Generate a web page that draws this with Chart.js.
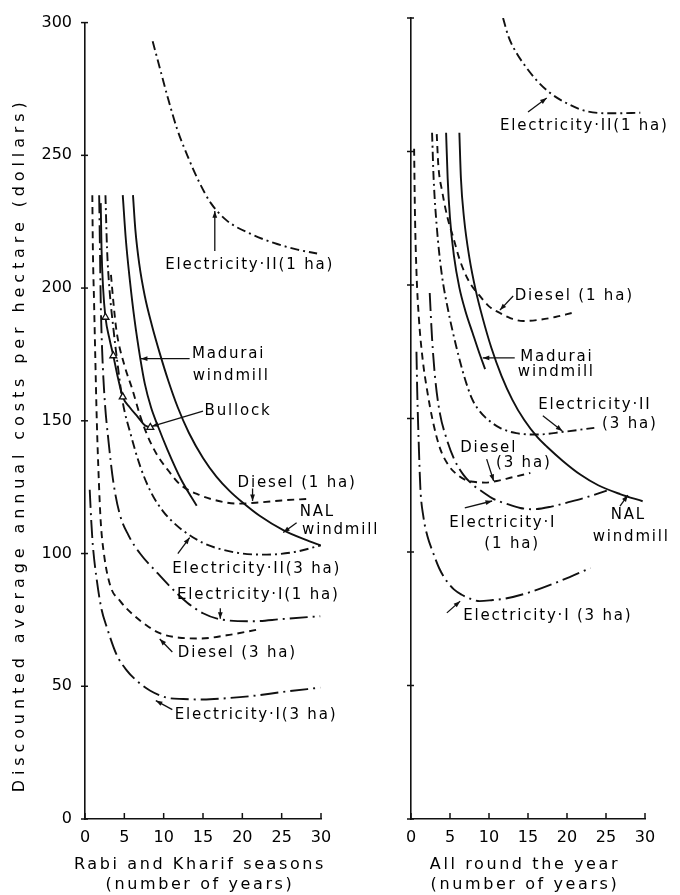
<!DOCTYPE html>
<html>
<head>
<meta charset="utf-8">
<script src="https://cdn.jsdelivr.net/npm/chart.js@4.4.1/dist/chart.umd.min.js"></script>
<style>
  html, body { margin: 0; padding: 0; background: #fff; }
  #wrap { position: relative; width: 680px; height: 895px; }
  canvas { position: absolute; top: 0; }
  #left { left: 0; }
  #right { left: 380px; }
</style>
</head>
<body>
<div id="wrap">
  <canvas id="left" width="400" height="895"></canvas>
  <canvas id="right" width="300" height="895"></canvas>
</div>
<script>
// axis ticks
const yTicks = [0, 50, 100, 150, 200, 250, 300];
const xTicks = [0, 5, 10, 15, 20, 25, 30];

// ---- left panel: Rabi and Kharif seasons  [years, dollars per ha]
const leftElec2One = [[8.6,293],[9.5,283],[10.5,272],[11.7,260],[13,250],[14.5,240],[16,232],[18,225.5],[21,220.5],[24,217],[27,214.5],[29.5,213]];
const leftMadurai = [[4.8,235],[5.2,218],[5.7,203],[6.3,188],[7.0,174],[7.6,164],[8.4,155],[9.2,148.5],[10.5,139],[12.2,128],[14.2,118]];
const leftNal = [[6.1,235],[6.4,222],[6.9,209],[7.6,197],[8.5,186],[9.5,175.5],[10.6,165],[11.8,155],[13.2,145.5],[15,136],[16.7,129],[18.4,123.5],[20,119.3],[22.2,114.2],[25.2,108.8],[28,105.2],[30,103]];
const leftBullock = [[2.0,232],[2.1,215],[2.3,200],[2.6,189],[3.1,181],[3.6,174.5],[4.2,166],[4.8,159],[5.7,155],[6.7,151.5],[7.6,148.3],[8.3,147.5]];
const bullockMarks = [3, 5, 7, 11];
const leftDiesel1 = [[3.3,205],[3.6,195],[4.0,184],[5.0,171],[6.0,162],[7.0,152],[8.0,144],[9.2,137],[10.4,132],[12.1,126],[14.6,122],[17,119.8],[19.3,118.8],[22,119.2],[25,120],[28.6,120.6]];
const leftElec2Three = [[2.6,235],[2.8,215],[3.1,200],[3.6,185],[4.2,170],[4.8,157],[5.8,145],[7.0,133],[8.4,123],[9.9,116],[11.5,111],[13,107.5],[15,104],[16.8,102],[20,100],[23.1,99.6],[26.5,100.5],[29.9,103]];
const leftElec1One = [[1.8,235],[1.9,215],[2.0,195],[2.2,175],[2.5,158],[3.0,142],[3.6,127],[4.4,115],[5.5,107],[7.0,100],[9.1,93],[11,87],[13,81.5],[15,77.5],[17.2,75.2],[21.3,74.5],[25,75.3],[29.9,76.4]];
const leftDiesel3 = [[0.93,235],[1.0,215],[1.15,195],[1.3,175],[1.5,150],[1.75,128],[2.0,112],[2.4,100],[3.2,88],[4.5,82],[6.1,77],[7.8,73],[9.5,70],[12,68.3],[14.6,68],[18,69.2],[22.2,71.5]];
const leftElec1Three = [[0.6,124],[0.8,112],[1.0,103],[1.5,90],[2.1,79],[2.8,72],[4,62],[5.3,56],[6.8,51.5],[8.3,48.3],[10.4,45.7],[12.5,45.2],[15,45],[18,45.5],[21.4,46.4],[25,47.8],[29.9,49.5]];

// ---- right panel: all round the year
const rightElec2One = [[11.8,300],[12.5,293],[13.5,287],[14.4,283],[16,277],[17.8,272],[20,268],[22.6,265],[26,264.3],[29.4,264.5]];
const rightElec2Three = [[2.7,257],[2.9,240],[3.3,222],[3.9,205],[4.8,190],[5.8,177],[6.8,166],[7.8,157.5],[8.6,153.5],[9.5,150.5],[11.4,146.5],[13.5,144.5],[16.2,144],[19.5,145],[23.5,146.5]];
const rightMadurai = [[4.5,257],[4.7,240],[5.0,225],[5.5,211],[6.2,199],[7.0,190],[7.9,182],[8.7,175],[9.5,168.5]];
const rightNal = [[6.2,257],[6.4,240],[6.8,225],[7.5,210],[8.3,198],[9.2,187.5],[10.3,176.5],[11.6,166],[13,157],[14.5,149.5],[16.2,143],[17.4,139.5],[19.5,134],[21.7,129],[24,125],[26.8,121.7],[29.7,119]];
const rightDiesel1 = [[3.3,256.5],[3.5,245],[4.0,235],[4.7,225],[5.4,218],[6.3,209],[7.5,201],[8.8,196],[10,192],[11.4,189.5],[12.8,187.5],[14.4,186.5],[16.5,187],[18.5,188],[20.6,189.5]];
const rightDiesel3 = [[0.4,251],[0.5,228],[0.7,205],[1.0,188],[1.5,172],[2.1,160],[2.8,149],[3.7,139],[4.8,132.5],[5.9,129],[7,127],[8,126.3],[9.5,126],[11,126.6],[13,128],[15.3,129.6]];
const rightElec1One = [[2.4,197],[2.7,180],[3.1,165],[3.7,152],[4.5,143],[5.5,135],[6.7,129],[8,125],[9.2,122.5],[10.5,120],[12.3,118],[14,116.5],[15.6,116],[18,117],[20,118.5],[22.5,120.5],[25.1,123]];
const rightElec1Three = [[0.7,175],[0.8,160],[1.0,140],[1.2,124],[1.6,113],[2.1,106],[2.8,100],[3.6,94],[4.6,89],[5.5,86],[6.5,84],[7.6,82.5],[8.8,81.6],[10.5,82],[12,82.5],[15.3,85],[19,89],[23,94]];

// curve labels [text, years, dollars] and pointer lines [x1, y1, x2, y2]
const leftLabels = [
  ["Electricity·II(1 ha)", 10.2, 208.6],
  ["Madurai", 13.6, 175.3],
  ["windmill", 13.7, 166.7],
  ["Bullock", 15.2, 153.6],
  ["Diesel (1 ha)", 19.4, 126.6],
  ["NAL", 27.3, 115.7],
  ["windmill", 27.6, 109],
  ["Electricity·II(3 ha)", 11.1, 94],
  ["Electricity·I(1 ha)", 11.7, 84.3],
  ["Diesel (3 ha)", 11.8, 62.5],
  ["Electricity·I(3 ha)", 11.4, 39],
];
const leftPointers = [
  [16.5,214, 16.5,229],
  [13.3,173.4, 7.1,173.4],
  [15,153.6, 8.5,147.9],
  [21.3,124.5, 21.3,119.8],
  [26.9,111.6, 25.2,107.9],
  [11.8,100, 13.3,106],
  [17.2,79.4, 17.2,75.4],
  [11.1,62.9, 9.5,67.8],
  [11.1,41.2, 9.0,44.6],
];
const rightLabels = [
  ["Electricity·II(1 ha)", 11.4, 259.6],
  ["Diesel (1 ha)", 13.3, 195.9],
  ["Madurai", 14, 173],
  ["windmill", 13.7, 167.4],
  ["Electricity·II", 16.3, 155],
  ["(3 ha)", 24.5, 147.9],
  ["Diesel", 6.3, 139],
  ["(3 ha)", 10.9, 133.3],
  ["Electricity·I", 4.9, 110.9],
  ["(1 ha)", 9.4, 103],
  ["NAL", 25.6, 113.9],
  ["windmill", 23.3, 105.6],
  ["Electricity·I (3 ha)", 6.7, 76],
];
const rightPointers = [
  [15,264.8, 17.4,270],
  [13.1,195.9, 11.4,190.6],
  [13.3,172.7, 9.2,172.7],
  [16.9,151, 19.4,145.3],
  [9.7,134.8, 10.6,126.6],
  [6.9,116.5, 10.4,119.1],
  [26.8,117.2, 27.8,121.3],
  [4.6,77.2, 6.3,81.6],
];

const INK = "#111";
const SOLID = [];
const DASHED = [7, 5];
const ELEC_I = [18, 5, 2, 5];
const ELEC_II = [9, 4, 2, 4];

Chart.defaults.font.family = "'DejaVu Sans', sans-serif";
Chart.defaults.font.size = 16;
Chart.defaults.color = "#000";

function curve(points, dash) {
  return {
    data: points.map((p) => ({ x: p[0], y: p[1] })),
    borderColor: INK,
    borderWidth: 1.9,
    borderDash: dash,
    pointRadius: 0,
    cubicInterpolationMode: "monotone",
    fill: false,
  };
}

// tick marks, curve labels, pointers and axis titles
function annotate(labels, pointers, titleLines, yTitle) {
  return {
    id: "annotate",
    afterDraw(chart) {
      const ctx = chart.ctx;
      const xs = chart.scales.x;
      const ys = chart.scales.y;
      const area = chart.chartArea;
      ctx.save();
      ctx.strokeStyle = INK;
      ctx.fillStyle = INK;
      ctx.lineWidth = 1.5;

      // x ticks point up into the plot, y ticks cross the axis
      xTicks.forEach((v) => {
        const px = xs.getPixelForValue(v);
        ctx.beginPath();
        ctx.moveTo(px, area.bottom);
        ctx.lineTo(px, area.bottom - 6);
        ctx.stroke();
      });
      yTicks.forEach((v) => {
        const py = ys.getPixelForValue(v);
        ctx.beginPath();
        ctx.moveTo(area.left - 4, py);
        ctx.lineTo(area.left + 3, py);
        ctx.stroke();
      });

      // pointers with a small arrow head
      ctx.lineWidth = 1.3;
      pointers.forEach((p) => {
        const x1 = xs.getPixelForValue(p[0]);
        const y1 = ys.getPixelForValue(p[1]);
        const x2 = xs.getPixelForValue(p[2]);
        const y2 = ys.getPixelForValue(p[3]);
        ctx.beginPath();
        ctx.moveTo(x1, y1);
        ctx.lineTo(x2, y2);
        ctx.stroke();
        const a = Math.atan2(y2 - y1, x2 - x1);
        ctx.beginPath();
        ctx.moveTo(x2, y2);
        ctx.lineTo(x2 - 7 * Math.cos(a - 0.35), y2 - 7 * Math.sin(a - 0.35));
        ctx.lineTo(x2 - 7 * Math.cos(a + 0.35), y2 - 7 * Math.sin(a + 0.35));
        ctx.closePath();
        ctx.fill();
      });

      // curve labels
      ctx.fillStyle = "#000";
      ctx.font = "15px 'DejaVu Sans'";
      ctx.letterSpacing = "1.8px";
      ctx.textAlign = "left";
      ctx.textBaseline = "middle";
      labels.forEach((l) => {
        ctx.fillText(l[0], xs.getPixelForValue(l[1]), ys.getPixelForValue(l[2]));
      });

      // x axis title, two lines
      ctx.font = "16px 'DejaVu Sans'";
      ctx.letterSpacing = "2.6px";
      ctx.textAlign = "center";
      const cx = (area.left + area.right) / 2 - 3;
      ctx.fillText(titleLines[0], cx, area.bottom + 46);
      ctx.fillText(titleLines[1], cx, area.bottom + 66);

      // y axis title, rotated, only on the left panel
      if (yTitle) {
        ctx.letterSpacing = "0px";
        const w = ctx.measureText(yTitle).width;
        const sp = (695 - w) / yTitle.length;
        ctx.letterSpacing = sp.toFixed(2) + "px";
        ctx.translate(20, (area.top + area.bottom) / 2 + 24);
        ctx.rotate(-Math.PI / 2);
        ctx.fillText(yTitle, 0, 0);
      }
      ctx.restore();
    },
  };
}

function panel(canvasId, datasets, yWidth, padRight, showY, labels, pointers, titleLines, yTitle) {
  return new Chart(document.getElementById(canvasId), {
    type: "line",
    data: { datasets: datasets },
    options: {
      responsive: false,
      animation: false,
      events: [],
      layout: { padding: { top: 18, right: padRight, left: 0, bottom: 0 } },
      plugins: { legend: { display: false }, tooltip: { enabled: false } },
      scales: {
        x: {
          type: "linear",
          min: 0,
          max: 30,
          afterBuildTicks: (s) => { s.ticks = xTicks.map((v) => ({ value: v })); },
          ticks: { padding: 9, maxRotation: 0 },
          grid: { display: false, drawTicks: false },
          border: { color: INK, width: 1.6 },
          afterFit: (s) => { s.height = 76; },
        },
        y: {
          type: "linear",
          min: 0,
          max: 300,
          afterBuildTicks: (s) => { s.ticks = yTicks.map((v) => ({ value: v })); },
          ticks: { display: showY, padding: 13 },
          grid: { display: false, drawTicks: false },
          border: { color: INK, width: 1.6 },
          afterFit: (s) => { s.width = yWidth; },
        },
      },
    },
    plugins: [annotate(labels, pointers, titleLines, yTitle)],
  });
}

const bullock = curve(leftBullock, SOLID);
bullock.pointStyle = "triangle";
bullock.pointBackgroundColor = "#fff";
bullock.pointBorderColor = INK;
bullock.pointBorderWidth = 1.3;
bullock.pointRadius = (c) => (bullockMarks.includes(c.dataIndex) ? 4 : 0);

panel(
  "left",
  [
    curve(leftElec2One, ELEC_II),
    curve(leftMadurai, SOLID),
    curve(leftNal, SOLID),
    bullock,
    curve(leftDiesel1, DASHED),
    curve(leftElec2Three, ELEC_II),
    curve(leftElec1One, ELEC_I),
    curve(leftDiesel3, DASHED),
    curve(leftElec1Three, ELEC_I),
  ],
  85, 79, true, leftLabels, leftPointers,
  ["Rabi and Kharif seasons", "(number of years)"],
  "Discounted average annual costs per hectare (dollars)"
);

panel(
  "right",
  [
    curve(rightElec2One, ELEC_II),
    curve(rightElec2Three, ELEC_II),
    curve(rightMadurai, SOLID),
    curve(rightNal, SOLID),
    curve(rightDiesel1, DASHED),
    curve(rightDiesel3, DASHED),
    curve(rightElec1One, ELEC_I),
    curve(rightElec1Three, ELEC_I),
  ],
  31, 35, false, rightLabels, rightPointers,
  ["All round the year", "(number of years)"],
  null
);
</script>
</body>
</html>
